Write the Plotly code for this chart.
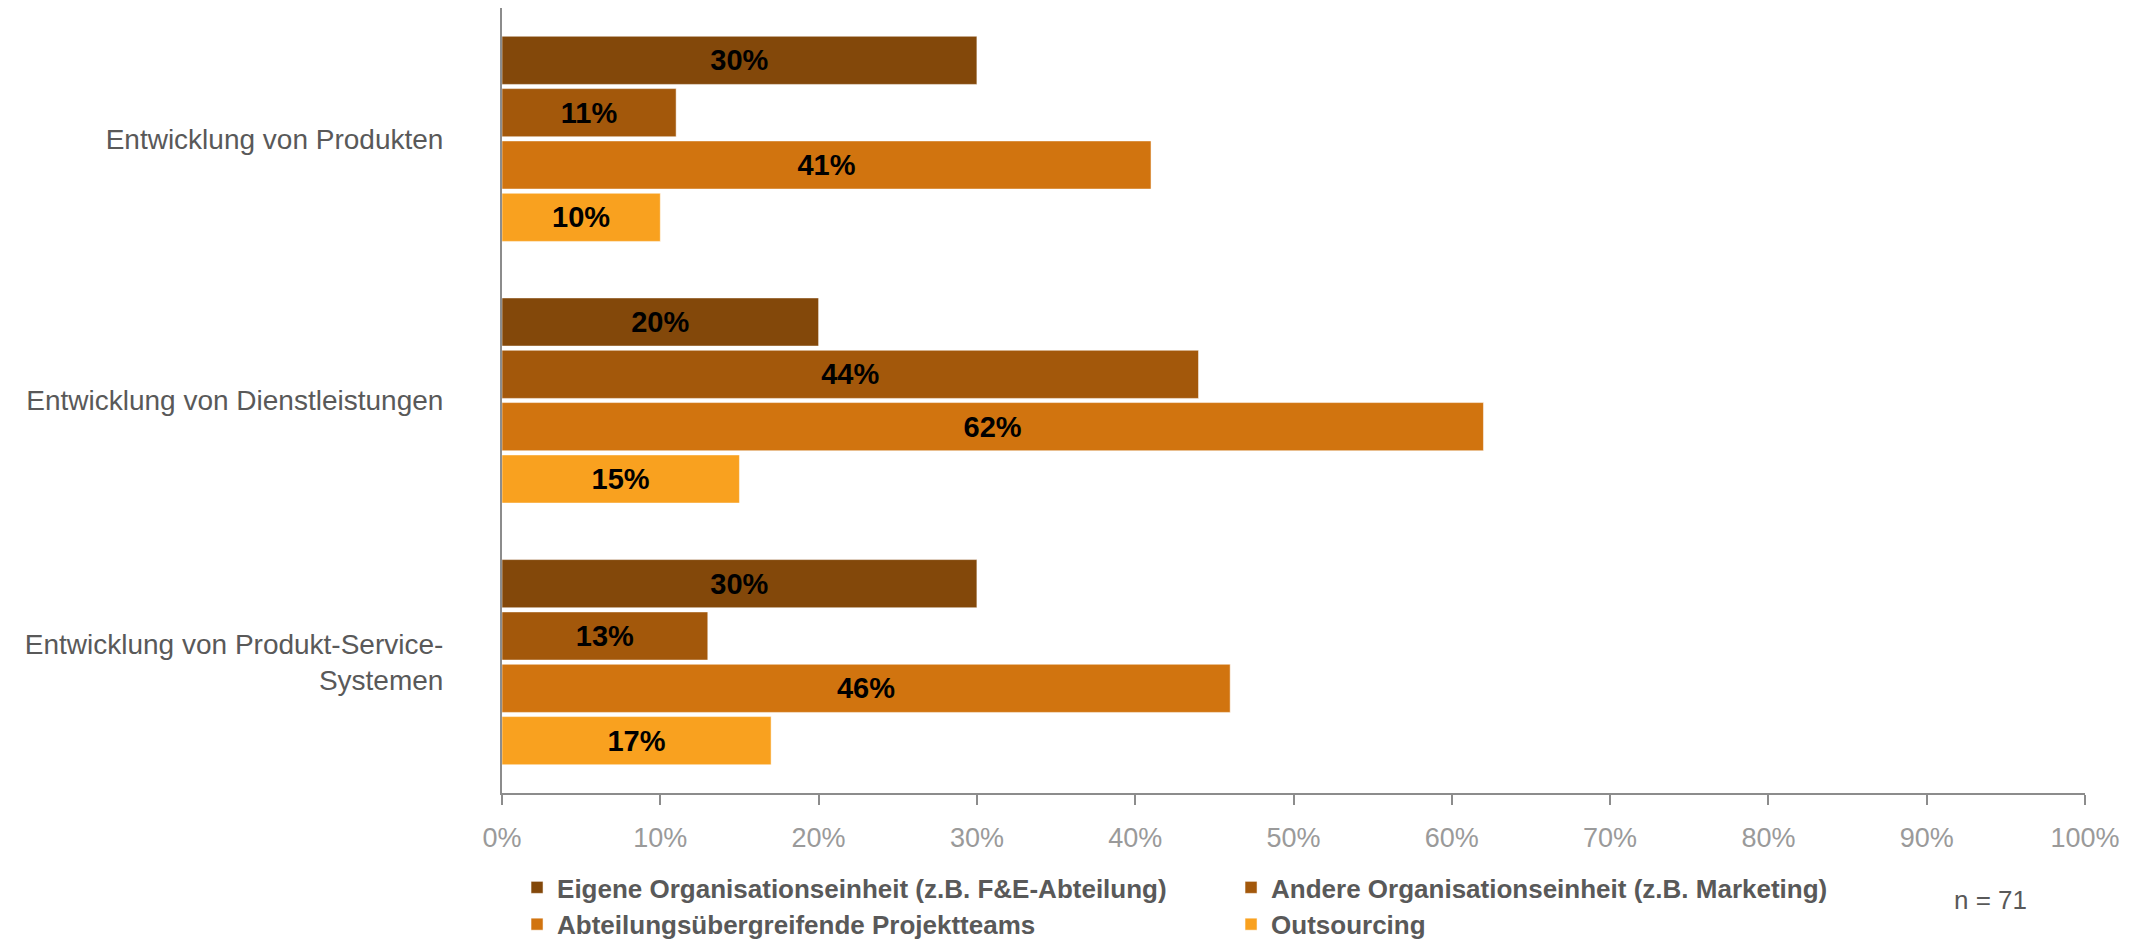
import plotly.graph_objects as go

categories = [
    "Entwicklung von Produkten",
    "Entwicklung von Dienstleistungen",
    "Entwicklung von Produkt-Service-<br>Systemen",
]
series_names = [
    "Eigene Organisationseinheit (z.B. F&E-Abteilung)",
    "Andere Organisationseinheit (z.B. Marketing)",
    "Abteilungsübergreifende Projektteams",
    "Outsourcing",
]
eigene = [30, 20, 30]
andere = [11, 44, 13]
abteilung = [41, 62, 46]
outsourcing = [10, 15, 17]
x_ticks = [0, 10, 20, 30, 40, 50, 60, 70, 80, 90, 100]

colors = ["#83480A", "#A3580B", "#D1740F", "#F9A11F"]
font_family = "Liberation Sans Narrow, Arial Narrow, Liberation Sans, Arial, sans-serif"

fig = go.Figure()
for name, vals, col in zip(series_names, [eigene, andere, abteilung, outsourcing], colors):
    fig.add_trace(go.Bar(
        y=categories,
        x=vals,
        name=name,
        orientation="h",
        marker=dict(color=col, line=dict(color="rgba(255,255,255,0.5)", width=1)),
        text=[f"{v}%" for v in vals],
        textposition="inside",
        insidetextanchor="middle",
        textangle=0,
        textfont=dict(family=font_family, size=29, color="black", weight="bold"),
        hoverinfo="skip",
    ))

# the page adds an 8px body margin, margins below compensate for it
# legend kept inside the figure so it doesn't push the bottom margin
fig.update_layout(
    width=2149, height=941,
    barmode="group",
    bargap=0.2,
    bargroupgap=0.08,
    paper_bgcolor="white",
    plot_bgcolor="white",
    margin=dict(l=494, r=72, t=0, b=156),
    font=dict(family=font_family, color="#595959"),
    legend=dict(
        orientation="h",
        x=0.0095, xanchor="left",
        y=-0.0904, yanchor="top",
        entrywidth=669,
        itemwidth=30,
        traceorder="normal",
        font=dict(size=26, color="#595959", weight="bold"),
        tracegroupgap=0,
    ),
    showlegend=True,
)

fig.update_xaxes(
    range=[0, 100],
    tickvals=x_ticks,
    ticktext=[f"{t}%" for t in x_ticks],
    showgrid=False,
    zeroline=False,
    showline=True,
    linecolor="#8C8C8C",
    linewidth=2,
    ticks="outside",
    ticklen=10,
    tickwidth=1.5,
    tickcolor="#8C8C8C",
    ticklabelstandoff=10,
    tickfont=dict(size=27, color="#9A9A9A"),
)
fig.update_yaxes(
    autorange="reversed",
    showgrid=False,
    zeroline=False,
    showline=True,
    linecolor="#8C8C8C",
    linewidth=2,
    ticks="",
    ticklabelstandoff=51,
    tickfont=dict(size=28, color="#595959"),
)

fig.add_annotation(
    text="n = 71", xref="paper", yref="paper",
    x=0.9406, y=-0.1363,
    xanchor="center", yanchor="middle", showarrow=False,
    font=dict(size=26, color="#595959"),
)

fig.write_html("out.html")
